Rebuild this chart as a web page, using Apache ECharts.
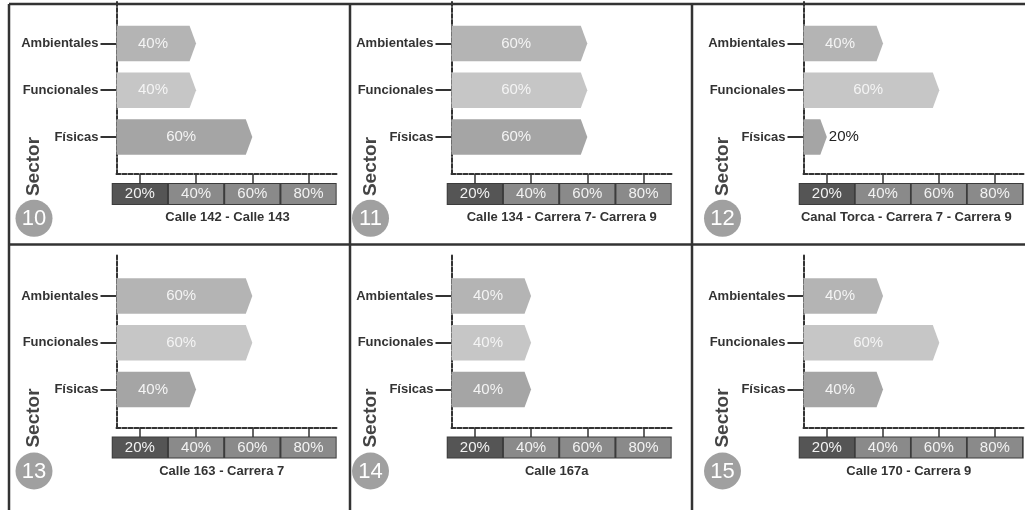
<!DOCTYPE html>
<html>
<head>
<meta charset="utf-8">
<script src="https://cdn.jsdelivr.net/npm/echarts@6/dist/echarts.min.js"></script>
<style>
html,body{margin:0;padding:0;background:#fff;}
#chart{width:1025px;height:510px;}
</style>
</head>
<body>
<div id="chart"></div>
<script>
// ---- data ----
const categories = ['Ambientales', 'Funcionales', 'Físicas'];
const sector10 = [40, 40, 60];
const sector11 = [60, 60, 60];
const sector12 = [40, 60, 20];
const sector13 = [60, 60, 40];
const sector14 = [40, 40, 40];
const sector15 = [40, 60, 40];
const sectorNumbers = ['10', '11', '12', '13', '14', '15'];
const places = [
  'Calle 142 - Calle 143',
  'Calle 134 - Carrera 7- Carrera 9',
  'Canal Torca - Carrera 7 - Carrera 9',
  'Calle 163 - Carrera 7',
  'Calle 167a',
  'Calle 170 - Carrera 9'
];
const tickValues = [20, 40, 60, 80];
const sectorLabel = 'Sector';

const panelValues = [sector10, sector11, sector12, sector13, sector14, sector15];

// ---- layout (pixels) ----
const FONT = 'Arial, "Liberation Sans", sans-serif';
const X_MIN = 11.7, X_MAX = 90.3, AXIS_W = 221;
const PX_PER_UNIT = AXIS_W / (X_MAX - X_MIN);
const AXIS_X = [116.5, 451.5, 803.5];
const ROWS = [
  {frameTop: 0, axisY: 174, barTop: 20.1, sectorY: 166.5, circleY: 218.3, subY: 217.5},
  {frameTop: 255, axisY: 427.5, barTop: 272.6, sectorY: 418, circleY: 471, subY: 471.5}
];
const SECTOR_X = [34, 370.5, 722.5];
const SUB_X = [[227.5, 561.7, 906.3], [221.7, 556.7, 908.8]];
const BAR_COLORS = ['#b4b4b4', '#c6c6c6', '#a5a5a5'];
const INK = '#333333';
const BOX_GAP = 10, BOX_H = 22;

const grids = [], xAxes = [], yAxes = [], series = [], graphics = [];

function renderBar(params, api) {
  const v = api.value(0);
  const ci = api.value(1);
  const start = api.coord([X_MIN, ci]);
  const end = api.coord([v, ci]);
  const h = api.size([0, 1])[1] * 0.76;
  const tip = 6.5;
  const y = end[1];
  const x0 = start[0], x1 = end[0];
  const inside = v > 25;
  return {
    type: 'group',
    children: [
      {
        type: 'polygon',
        shape: {points: [[x0, y - h / 2], [x1 - tip, y - h / 2], [x1, y], [x1 - tip, y + h / 2], [x0, y + h / 2]]},
        style: {fill: BAR_COLORS[ci]}
      },
      {
        type: 'text',
        style: {
          text: v + '%',
          x: inside ? (x0 + x1 - tip) / 2 : x1 + 2,
          y: y,
          align: inside ? 'center' : 'left',
          verticalAlign: 'middle',
          fill: inside ? '#f4f4f4' : '#222',
          font: '15px ' + FONT
        }
      }
    ]
  };
}

const tMin = tickValues[0], tMax = tickValues[tickValues.length - 1];
const tInterval = tickValues[1] - tickValues[0];
const stepPx = tInterval * PX_PER_UNIT;

panelValues.forEach(function (vals, p) {
  const r = Math.floor(p / 3), c = p % 3;
  const row = ROWS[r];
  const ax = AXIS_X[c];
  const frameH = row.axisY - row.frameTop;
  // frame grid (dashed axes)
  const gFrame = grids.length;
  grids.push({left: ax, top: row.frameTop, width: AXIS_W, height: frameH});
  xAxes.push({
    gridIndex: gFrame, type: 'value', min: X_MIN, max: X_MAX,
    axisLine: {show: true, lineStyle: {color: INK, width: 2, type: [4, 2]}},
    axisTick: {show: false}, axisLabel: {show: false}, splitLine: {show: false}
  });
  yAxes.push({
    gridIndex: gFrame, type: 'value', min: 0, max: 1,
    axisLine: {show: true, lineStyle: {color: INK, width: 2, type: [4, 2]}},
    axisTick: {show: false}, axisLabel: {show: false}, splitLine: {show: false}
  });
  // tick grid (ticks + boxed labels)
  const tickLeft = ax + (tMin - X_MIN) * PX_PER_UNIT;
  const gTick = grids.length;
  grids.push({left: tickLeft, top: row.frameTop, width: (tMax - tMin) * PX_PER_UNIT, height: frameH});
  xAxes.push({
    gridIndex: gTick, type: 'value', min: tMin, max: tMax, interval: tInterval,
    axisLine: {show: false},
    axisTick: {show: true, length: BOX_GAP, lineStyle: {color: INK, width: 1.5}},
    splitLine: {show: false},
    axisLabel: {
      show: true, margin: BOX_GAP, showMinLabel: true, showMaxLabel: true, hideOverlap: false,
      formatter: function (val) { return (val === tMin ? '{d|' : '{m|') + val + '%}'; },
      rich: {
        d: {backgroundColor: '#555555', width: stepPx - 2, height: BOX_H - 2, lineHeight: BOX_H - 2,
            align: 'center', color: '#f2f2f2', fontSize: 15, fontFamily: FONT},
        m: {backgroundColor: '#8a8a8a', width: stepPx - 2, height: BOX_H - 2, lineHeight: BOX_H - 2,
            align: 'center', color: '#f2f2f2', fontSize: 15, fontFamily: FONT}
      }
    }
  });
  yAxes.push({gridIndex: gTick, type: 'value', min: 0, max: 1, show: false});
  // dark strip behind the boxed labels (forms their borders)
  graphics.push({
    type: 'rect', z: -1,
    shape: {x: tickLeft - stepPx / 2, y: row.axisY + BOX_GAP - 1, width: stepPx * tickValues.length, height: BOX_H},
    style: {fill: '#3c3c3c'}
  });
  // bar grid
  const gBar = grids.length;
  grids.push({left: ax, top: row.barTop, width: AXIS_W, height: 140.25});
  xAxes.push({gridIndex: gBar, type: 'value', min: X_MIN, max: X_MAX, show: false});
  yAxes.push({
    gridIndex: gBar, type: 'category', inverse: true, data: categories,
    axisLine: {show: false},
    axisTick: {show: true, alignWithLabel: true, length: 16, lineStyle: {color: INK, width: 2}},
    axisLabel: {margin: 18, color: INK, fontWeight: 'bold', fontSize: 13, fontFamily: FONT},
    splitLine: {show: false}
  });
  series.push({
    type: 'custom', xAxisIndex: gBar, yAxisIndex: gBar,
    renderItem: renderBar,
    encode: {x: 0, y: 1},
    data: vals.map(function (v, i) { return [v, i]; }),
    clip: false
  });
  // decorations
  graphics.push({
    type: 'text', x: SECTOR_X[c], y: row.sectorY, rotation: Math.PI / 2,
    style: {text: sectorLabel, align: 'center', verticalAlign: 'middle', fill: '#444', font: 'bold 19px ' + FONT}
  });
  graphics.push({
    type: 'circle', shape: {cx: SECTOR_X[c], cy: row.circleY, r: 18.5},
    style: {fill: '#a0a0a0'}
  });
  graphics.push({
    type: 'text', x: SECTOR_X[c], y: row.circleY + 1,
    style: {text: sectorNumbers[p], align: 'center', verticalAlign: 'middle', fill: '#ffffff', font: '22px ' + FONT}
  });
  graphics.push({
    type: 'text', x: SUB_X[r][c], y: row.subY,
    style: {text: places[p], align: 'center', verticalAlign: 'middle', fill: INK, font: 'bold 13px ' + FONT}
  });
});

// panel borders
const borderStyle = {stroke: '#333', lineWidth: 2.5};
[[9, 4, 1025, 4], [9, 244.5, 1025, 244.5], [9, 4, 9, 510], [350, 4, 350, 510], [692, 4, 692, 510]].forEach(function (l) {
  graphics.push({type: 'line', shape: {x1: l[0], y1: l[1], x2: l[2], y2: l[3]}, style: borderStyle, z: 0});
});

const chart = echarts.init(document.getElementById('chart'));
chart.setOption({
  backgroundColor: '#ffffff',
  animation: false,
  grid: grids,
  xAxis: xAxes,
  yAxis: yAxes,
  series: series,
  graphic: graphics
});
</script>
</body>
</html>
